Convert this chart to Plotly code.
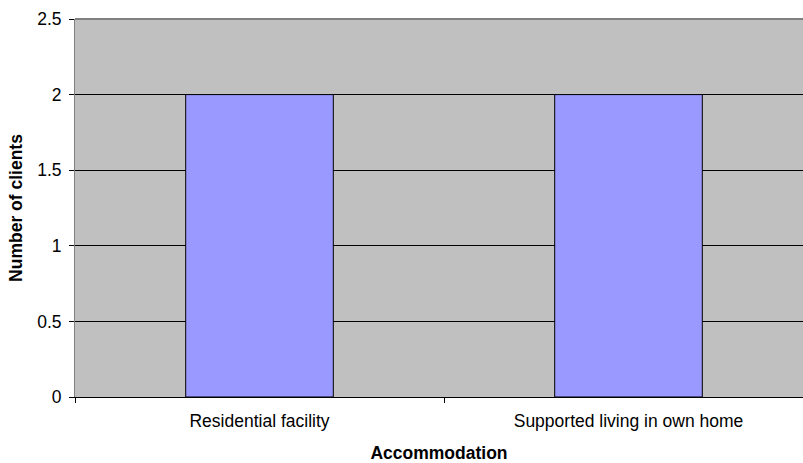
import plotly.graph_objects as go

categories = ["Residential facility", "Supported living in own home"]
values = [2, 2]
y_ticks = [0, 0.5, 1, 1.5, 2, 2.5]
y_tick_labels = ["0", "0.5", "1", "1.5", "2", "2.5"]

W, H = 803, 463
L, T, B = 75, 19, 66
# the plot area of the original runs past the right edge of the image (to ~813px)
full_right = 813
x_hi = -0.5 + 2 * (W - L) / (full_right - L)

FS = 17.5

fig = go.Figure()
fig.add_trace(go.Bar(
    x=categories, y=values,
    marker=dict(color="#9999FF", line=dict(color="#000000", width=1)),
    width=0.4,
))

font = "Liberation Sans, Arial, sans-serif"
fig.update_layout(
    width=W, height=H,
    margin=dict(l=L, r=0, t=T, b=B),
    paper_bgcolor="white",
    plot_bgcolor="#C0C0C0",
    showlegend=False,
    font=dict(family=font, size=FS, color="black"),
    xaxis=dict(
        type="category",
        range=[-0.5, x_hi],
        tickson="boundaries",
        ticks="outside", ticklen=5, tickcolor="black", tickwidth=1,
        showline=True, linecolor="black", linewidth=1,
        showgrid=False,
        tickfont=dict(size=FS),
        ticklabelstandoff=8,
        title=dict(text="<b>Accommodation</b>", font=dict(size=FS), standoff=16),
    ),
    yaxis=dict(
        range=[0, 2.5],
        tickvals=y_ticks, ticktext=y_tick_labels,
        ticks="outside", ticklen=5, tickcolor="black", tickwidth=1,
        showline=True, linecolor="#808080", linewidth=1,
        showgrid=True, gridcolor="black", gridwidth=1,
        zeroline=False,
        tickfont=dict(size=FS),
        ticklabelstandoff=4,
        title=dict(text="<b>Number of clients</b>", font=dict(size=FS), standoff=10),
    ),
    shapes=[dict(type="line", xref="paper", yref="paper", x0=0, x1=1, y0=1, y1=1,
                 line=dict(color="#808080", width=2), layer="above")],
)

fig.write_html("out.html")
